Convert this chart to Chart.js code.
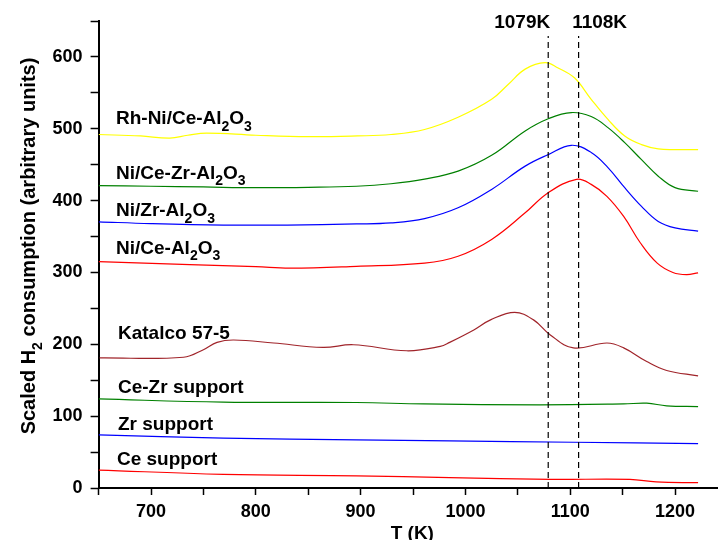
<!DOCTYPE html>
<html>
<head>
<meta charset="utf-8">
<script src="https://cdn.jsdelivr.net/npm/chart.js@4.4.1/dist/chart.umd.min.js"></script>
<style>
  html, body { margin: 0; padding: 0; background: #fff; }
  #wrap { width: 718px; height: 540px; }
</style>
</head>
<body>
<div id="wrap"><canvas id="tprChart" width="718" height="540"></canvas></div>
<script>
// TPR profiles, temperature in K, H2 consumption offset per sample
const tRhNi = [650, 690, 718, 735, 753, 800, 850, 897, 929, 961, 993, 1025, 1041, 1057, 1076, 1088, 1104, 1120, 1136, 1152, 1168, 1184, 1200, 1222];
const hRhNi = [492, 490, 487, 491, 494, 491, 489, 490, 492, 499, 516, 541, 562, 583, 592, 585, 571, 541, 513, 490, 478, 472, 471, 471];

const tNiCeZr = [650, 700, 750, 801, 850, 896, 929, 961, 993, 1025, 1057, 1079, 1101, 1120, 1136, 1152, 1168, 1184, 1200, 1222];
const hNiCeZr = [421, 420, 419, 418, 418.5, 420, 423.5, 430, 441, 463, 497, 514, 522.6, 517, 501.6, 480.7, 457, 434, 418, 413];

const tNiZr = [650, 700, 769, 830, 896, 929, 961, 993, 1025, 1057, 1079, 1101, 1120, 1136, 1152, 1168, 1184, 1200, 1222];
const hNiZr = [370.5, 368, 366, 366, 367.5, 369, 375, 390, 415.6, 448, 464, 477, 467, 446, 418, 392, 371, 362, 357.5];

const tNiCe = [650, 737, 800, 833, 896, 961, 993, 1025, 1057, 1079, 1106, 1120, 1135, 1151, 1167, 1183, 1198, 1211, 1222];
const hNiCe = [315, 311, 308, 306, 308.6, 313, 322.6, 346, 383, 411, 429.6, 422.6, 406, 378, 341, 313, 300, 297, 299.5];

const tKatalco = [651, 731, 750, 763, 779, 817, 864, 893, 944, 976, 985, 1008, 1024, 1047, 1065, 1081, 1103, 1135, 1151, 1173, 1192, 1222];
const hKatalco = [181, 182, 192.5, 202.7, 206, 201.8, 195.7, 199.4, 191, 197, 202.7, 220, 234, 244.5, 234, 213, 195, 201.8, 195, 176, 163.6, 156];

const tCeZr = [650, 769, 896, 960, 1071, 1151, 1173, 1192, 1222];
const hCeZr = [124, 119.5, 119, 117, 115.8, 117, 118, 114.4, 113.4];

const tZr = [650, 769, 896, 985, 1103, 1222];
const hZr = [74, 69.3, 67, 65.5, 63.7, 61.8];

const tCe = [650, 769, 896, 985, 1081, 1157, 1182, 1222];
const hCe = [25, 19, 17, 14.5, 12, 12, 8.4, 7.4];

// reduction peak markers
const peakTemps = [1079, 1108];
const peakLabels = ['1079K', '1108K'];
const peakTop = 629;

// sample names, '_' marks a subscript run
const seriesNames = [
  ['Rh-Ni/Ce-Al', '_2', 'O', '_3'],
  ['Ni/Ce-Zr-Al', '_2', 'O', '_3'],
  ['Ni/Zr-Al', '_2', 'O', '_3'],
  ['Ni/Ce-Al', '_2', 'O', '_3'],
  ['Katalco 57-5'],
  ['Ce-Zr support'],
  ['Zr support'],
  ['Ce support']
];

const FONT = 'Arial, "Liberation Sans", Helvetica, sans-serif';

function pts(t, h) {
  return t.map((x, i) => ({ x: x, y: h[i] }));
}

function curve(t, h, color) {
  return {
    data: pts(t, h),
    borderColor: color,
    borderWidth: 1.2,
    pointRadius: 0,
    tension: 0.4,
    fill: false
  };
}

function drawRich(ctx, parts, x, y, size) {
  let cx = x;
  parts.forEach(p => {
    const sub = p.startsWith('_');
    const txt = sub ? p.slice(1) : p;
    ctx.font = 'bold ' + (sub ? Math.round(size * 0.72) : size) + 'px ' + FONT;
    ctx.fillText(txt, cx, sub ? y + size * 0.33 : y);
    cx += ctx.measureText(txt).width;
  });
  return cx - x;
}

function richWidth(ctx, parts, size) {
  let w = 0;
  parts.forEach(p => {
    const sub = p.startsWith('_');
    const txt = sub ? p.slice(1) : p;
    ctx.font = 'bold ' + (sub ? Math.round(size * 0.72) : size) + 'px ' + FONT;
    w += ctx.measureText(txt).width;
  });
  return w;
}

// where each sample name sits (K, value of the text baseline)
const namePos = [[666.6, 506], [666.6, 430], [666.6, 378], [666.6, 325.5], [668.5, 208], [668.5, 132.5], [668.5, 80.7], [667.5, 32]];

const textPlugin = {
  id: 'tprText',
  afterDraw(chart) {
    const ctx = chart.ctx;
    const xs = chart.scales.x;
    const ys = chart.scales.y;
    ctx.save();
    ctx.fillStyle = '#000';
    ctx.textAlign = 'left';
    ctx.textBaseline = 'alphabetic';

    seriesNames.forEach((parts, i) => {
      drawRich(ctx, parts, xs.getPixelForValue(namePos[i][0]), ys.getPixelForValue(namePos[i][1]), 19);
    });

    // peak labels
    ctx.font = 'bold 19px ' + FONT;
    ctx.textAlign = 'center';
    const offs = [-26, 21];
    peakTemps.forEach((t, i) => {
      ctx.fillText(peakLabels[i], xs.getPixelForValue(t) + offs[i], ys.getPixelForValue(640));
    });

    // x axis title
    ctx.fillText('T (K)', (xs.left + xs.right) / 2 + 4, 538.5);

    // y axis title with subscript
    const yTitle = ['Scaled H', '_2', ' consumption (arbitrary units)'];
    ctx.textAlign = 'left';
    ctx.translate(35, 246);
    ctx.rotate(-Math.PI / 2);
    const w = richWidth(ctx, yTitle, 20);
    drawRich(ctx, yTitle, -w / 2, 0, 20);
    ctx.restore();
  }
};

const markers = peakTemps.map(t => ({
  data: [{ x: t, y: 0 }, { x: t, y: peakTop }],
  borderColor: '#000',
  borderWidth: 1.2,
  borderDash: [6, 4],
  pointRadius: 0,
  fill: false
}));

const ctx = document.getElementById('tprChart').getContext('2d');
new Chart(ctx, {
  type: 'line',
  data: {
    datasets: [
      ...markers,
      curve(tRhNi, hRhNi, '#ffff00'),
      curve(tNiCeZr, hNiCeZr, '#008000'),
      curve(tNiZr, hNiZr, '#0000ff'),
      curve(tNiCe, hNiCe, '#ff0000'),
      curve(tKatalco, hKatalco, '#a0242a'),
      curve(tCeZr, hCeZr, '#008000'),
      curve(tZr, hZr, '#0000ff'),
      curve(tCe, hCe, '#ff0000')
    ]
  },
  options: {
    responsive: false,
    animation: false,
    layout: { padding: { top: 21, right: 0, left: 0, bottom: 0 } },
    plugins: {
      legend: { display: false },
      tooltip: { enabled: false }
    },
    scales: {
      x: {
        type: 'linear',
        min: 650,
        max: 1241,
        afterFit: s => { s.height = 52; },
        border: { display: true, color: '#000', width: 2 },
        grid: { drawOnChartArea: false, drawTicks: true, tickLength: 7, color: '#000', tickWidth: 1.5 },
        ticks: {
          stepSize: 50,
          includeBounds: false,
          autoSkip: false,
          maxRotation: 0,
          padding: 6,
          color: '#000',
          font: { family: FONT, size: 18, weight: 'bold' },
          callback: v => (v % 100 === 0 ? String(v) : '')
        }
      },
      y: {
        min: 0,
        max: 650,
        afterFit: s => { s.width = 98.6; },
        border: { display: true, color: '#000', width: 2 },
        grid: { drawOnChartArea: false, drawTicks: true, tickLength: 8, color: '#000', tickWidth: 1.5 },
        ticks: {
          stepSize: 50,
          autoSkip: false,
          padding: 8,
          color: '#000',
          font: { family: FONT, size: 18, weight: 'bold' },
          callback: v => (v % 100 === 0 ? String(v) : '')
        }
      }
    }
  },
  plugins: [textPlugin]
});
</script>
</body>
</html>
